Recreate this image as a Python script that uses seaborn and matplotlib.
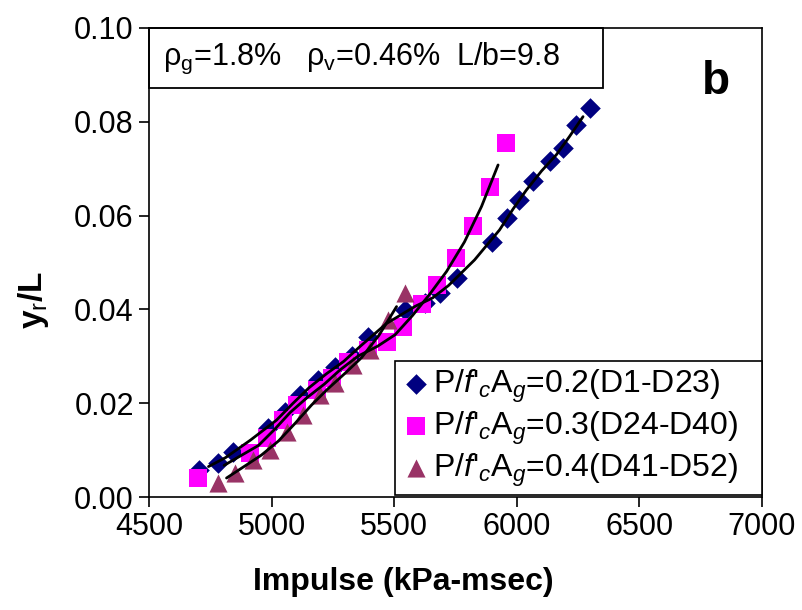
import numpy as np
import pandas as pd
import seaborn as sns
import matplotlib
matplotlib.use("Agg")
import matplotlib.pyplot as plt
from matplotlib.patches import Rectangle

# ---- data ----
impulse_02 = [4704, 4781, 4843, 4985, 5055, 5116, 5189, 5259, 5328, 5393, 5544,
              5626, 5687, 5756, 5899, 5960, 6009, 6066, 6135, 6188, 6241, 6299]
ratio_02 = [0.0058, 0.0072, 0.0096, 0.0147, 0.0181, 0.0217, 0.0249, 0.0277, 0.0301,
            0.0341, 0.0399, 0.0414, 0.0435, 0.0467, 0.0544, 0.0595, 0.0633, 0.0674,
            0.0716, 0.0744, 0.0793, 0.0829]

impulse_03 = [4700, 4912, 4981, 5046, 5104, 5185, 5246, 5312, 5393, 5471, 5536,
              5613, 5675, 5752, 5821, 5891, 5956]
ratio_03 = [0.0041, 0.0094, 0.0126, 0.0164, 0.0196, 0.0228, 0.0254, 0.0288, 0.0313,
            0.0330, 0.0362, 0.0412, 0.0452, 0.0510, 0.0578, 0.0661, 0.0755]

impulse_04 = [4781, 4851, 4924, 4993, 5063, 5128, 5197, 5259, 5332, 5401, 5475, 5544]
ratio_04 = [0.0030, 0.0051, 0.0079, 0.0100, 0.0139, 0.0175, 0.0217, 0.0243, 0.0281,
            0.0313, 0.0377, 0.0435]

series_labels = [r"P/$\mathit{f}$'$_{\mathit{c}}$A$_{\mathit{g}}$=0.2(D1-D23)",
                 r"P/$\mathit{f}$'$_{\mathit{c}}$A$_{\mathit{g}}$=0.3(D24-D40)",
                 r"P/$\mathit{f}$'$_{\mathit{c}}$A$_{\mathit{g}}$=0.4(D41-D52)"]
x_ticks = [4500, 5000, 5500, 6000, 6500, 7000]
y_ticks = [0.00, 0.02, 0.04, 0.06, 0.08, 0.10]

# ---- style ----
sns.set_style("ticks")
plt.rcParams["font.family"] = ["Liberation Sans", "DejaVu Sans"]
plt.rcParams["mathtext.fontset"] = "custom"
plt.rcParams["mathtext.rm"] = "Liberation Sans"
plt.rcParams["mathtext.it"] = "Liberation Sans:italic"
plt.rcParams["mathtext.bf"] = "Liberation Sans:bold"
plt.rcParams["mathtext.default"] = "regular"
plt.rcParams["text.color"] = "black"
plt.rcParams["axes.labelcolor"] = "black"

frames = []
for xs, ys, lab in zip([impulse_02, impulse_03, impulse_04],
                       [ratio_02, ratio_03, ratio_04], series_labels):
    frames.append(pd.DataFrame({"impulse": xs, "ratio": ys, "group": lab}))
df = pd.concat(frames, ignore_index=True)

colors = {series_labels[0]: "#000080", series_labels[1]: "#FF00FF", series_labels[2]: "#993366"}
markers = {series_labels[0]: "D", series_labels[1]: "s", series_labels[2]: "^"}
sizes = {series_labels[0]: 110, series_labels[1]: 150, series_labels[2]: 170}

fig = plt.figure(figsize=(8.03, 6.10), dpi=100)
ax = fig.add_axes([0.1856, 0.1852, 0.7634, 0.7689])

# 2-period moving-average trend lines
for lab in series_labels:
    d = df[df["group"] == lab].sort_values("impulse")
    mx = d["impulse"].rolling(2).mean().values[1:]
    my = d["ratio"].rolling(2).mean().values[1:]
    ax.plot(mx, my, color="black", lw=2.0, zorder=3, solid_capstyle="round")

for lab in series_labels:
    d = df[df["group"] == lab]
    sns.scatterplot(data=d, x="impulse", y="ratio", ax=ax, color=colors[lab],
                    marker=markers[lab], s=sizes[lab], linewidth=0, label=lab,
                    zorder=2)

ax.set_xlim(4500, 7000)
ax.set_ylim(0, 0.10)
ax.set_xticks(x_ticks)
ax.set_yticks(y_ticks)
ax.set_yticklabels([f"{v:.2f}" for v in y_ticks])
ax.tick_params(axis="both", direction="out", length=7, width=1.2, labelsize=22,
               colors="black", pad=4)
for sp in ax.spines.values():
    sp.set_linewidth(1.2)
    sp.set_color("black")
    sp.set_visible(True)

ax.set_xlabel("Impulse (kPa-msec)", fontsize=23, fontweight="bold", color="black")
ax.set_ylabel(r"y$_\mathrm{r}$/L", fontsize=24, fontweight="bold", color="black")
ax.xaxis.set_label_coords(0.414, -0.15)
ax.yaxis.set_label_coords(-0.16, 0.42)

# parameter box
ax.add_patch(Rectangle((0.0, 0.872), 0.741, 0.128, transform=ax.transAxes,
                       fill=False, edgecolor="black", lw=1.3, zorder=5, clip_on=False))
ax.text(0.022, 0.936, r"ρ$_\mathrm{g}$=1.8%   ρ$_\mathrm{v}$=0.46%  L/b=9.8",
        transform=ax.transAxes, fontsize=22, va="center", ha="left", color="black")
ax.text(0.925, 0.885, "b", transform=ax.transAxes, fontsize=33, fontweight="bold",
        ha="center", va="center", color="black")

leg = ax.legend(loc="lower left", bbox_to_anchor=(0.401, 0.004, 0.599, 0.29),
                mode="expand", fontsize=23,
                frameon=True, fancybox=False, edgecolor="black", framealpha=1,
                borderpad=0.2, handletextpad=0.1, handlelength=0.9,
                labelspacing=0.15, borderaxespad=0)
leg.get_frame().set_linewidth(1.2)
for t in leg.get_texts():
    t.set_color("black")

fig.savefig("out.png", dpi=100)
